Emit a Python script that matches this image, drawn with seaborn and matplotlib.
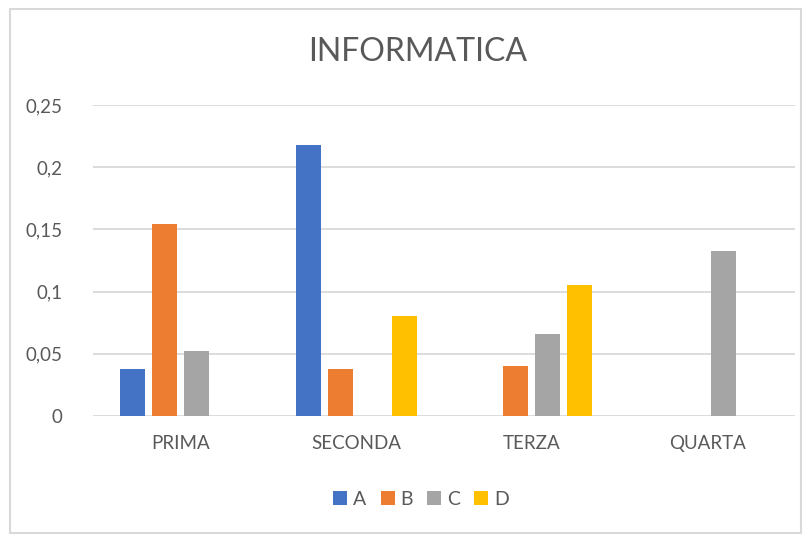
import matplotlib
matplotlib.use('Agg')
import matplotlib.pyplot as plt
from matplotlib.patches import Rectangle
from matplotlib.lines import Line2D
from matplotlib.ticker import FuncFormatter
import pandas as pd
import seaborn as sns

# data
categories = ["PRIMA", "SECONDA", "TERZA", "QUARTA"]
series_names = ["A", "B", "C", "D"]
values_a = [0.038, 0.218, 0.0, 0.0]
values_b = [0.154, 0.038, 0.040, 0.0]
values_c = [0.052, 0.0, 0.066, 0.133]
values_d = [0.0, 0.080, 0.105, 0.0]
yticks = [0, 0.05, 0.1, 0.15, 0.2, 0.25]

colors = ['#4472C4', '#ED7D31', '#A5A5A5', '#FFC000']
text_color = '#595959'
grid_color = '#D9D9D9'

rows = []
for name, vals in zip(series_names, [values_a, values_b, values_c, values_d]):
    for cat, v in zip(categories, vals):
        rows.append({"categoria": cat, "serie": name, "valore": v})
df = pd.DataFrame(rows)

sns.set_theme(style='white')
plt.rcParams['font.family'] = ['Lato', 'DejaVu Sans']

fig = plt.figure(figsize=(8.07, 5.36), dpi=100)
ax = fig.add_axes([0.115, 0.224, 0.87, 0.58])

sns.barplot(data=df, x='categoria', y='valore', hue='serie', order=categories,
            hue_order=series_names, palette=colors, width=0.73, gap=0.22,
            saturation=1, linewidth=0, legend=False, ax=ax)

ax.set_ylim(0, 0.25)
ax.set_yticks(yticks)
ax.yaxis.set_major_formatter(FuncFormatter(lambda v, p: f"{v:g}".replace('.', ',')))
ax.grid(axis='y', color=grid_color, linewidth=1.3)
ax.set_axisbelow(True)
for s in ax.spines.values():
    s.set_visible(False)
ax.tick_params(axis='both', length=0, labelsize=13.5, colors=text_color)
ax.tick_params(axis='y', pad=22)
ax.tick_params(axis='x', pad=14)
ax.set_xlabel('')
ax.set_ylabel('')

# square legend markers, like the spreadsheet legend
handles = [Line2D([], [], marker='s', linestyle='none', markersize=10,
                  markerfacecolor=c, markeredgecolor=c, markeredgewidth=0, label=n)
           for c, n in zip(colors, series_names)]
ax.legend(handles=handles, loc='center', bbox_to_anchor=(0.52, 0.068),
          bbox_transform=fig.transFigure, ncol=4, frameon=False, fontsize=14,
          labelcolor=text_color, handlelength=1.0, handletextpad=0.15,
          columnspacing=0.6, markerscale=1.0)

fig.text(0.517, 0.903, 'INFORMATICA', ha='center', va='center',
         fontsize=23, color=text_color)

# light chart border
fig.patches.append(Rectangle((0.012, 0.006), 0.98, 0.978, transform=fig.transFigure,
                             fill=False, edgecolor=grid_color, linewidth=1.5))

plt.savefig('out.png', dpi=100)
plt.close()
